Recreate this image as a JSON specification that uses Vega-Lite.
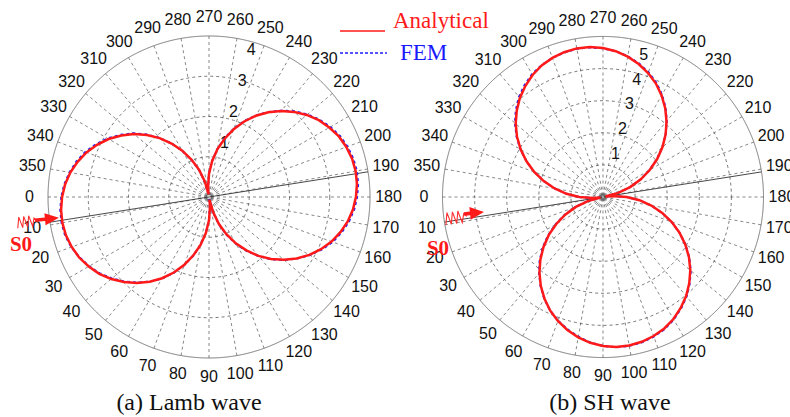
{
  "$schema": "https://vega.github.io/schema/vega-lite/v6.json",
  "background": "white",
  "padding": 0,
  "spacing": 0,
  "bounds": "flush",
  "config": {"view": {"stroke": null}},
  "resolve": {"scale": {"x": "independent", "y": "independent", "size": "independent"}},
  "datasets": {
    "angles": [
      {"deg": 0}, {"deg": 10}, {"deg": 20}, {"deg": 30}, {"deg": 40}, {"deg": 50}, {"deg": 60}, {"deg": 70}, {"deg": 80},
      {"deg": 90}, {"deg": 100}, {"deg": 110}, {"deg": 120}, {"deg": 130}, {"deg": 140}, {"deg": 150}, {"deg": 160}, {"deg": 170},
      {"deg": 180}, {"deg": 190}, {"deg": 200}, {"deg": 210}, {"deg": 220}, {"deg": 230}, {"deg": 240}, {"deg": 250}, {"deg": 260},
      {"deg": 270}, {"deg": 280}, {"deg": 290}, {"deg": 300}, {"deg": 310}, {"deg": 320}, {"deg": 330}, {"deg": 340}, {"deg": 350}
    ],
    "ringsLamb": [{"v": 1}, {"v": 2}, {"v": 3}, {"v": 4}],
    "ringsSH": [{"v": 1}, {"v": 2}, {"v": 3}, {"v": 4}, {"v": 5}],
    "lamb": [
      {"deg": 0, "Analytical": 3.65, "FEM": 3.67}, {"deg": 5, "Analytical": 3.69, "FEM": 3.71},
      {"deg": 10, "Analytical": 3.70, "FEM": 3.72}, {"deg": 15, "Analytical": 3.68, "FEM": 3.70},
      {"deg": 20, "Analytical": 3.63, "FEM": 3.64}, {"deg": 25, "Analytical": 3.56, "FEM": 3.55},
      {"deg": 30, "Analytical": 3.45, "FEM": 3.44}, {"deg": 35, "Analytical": 3.33, "FEM": 3.31},
      {"deg": 40, "Analytical": 3.17, "FEM": 3.15}, {"deg": 45, "Analytical": 2.99, "FEM": 2.97},
      {"deg": 50, "Analytical": 2.79, "FEM": 2.78}, {"deg": 55, "Analytical": 2.57, "FEM": 2.57},
      {"deg": 60, "Analytical": 2.33, "FEM": 2.34}, {"deg": 65, "Analytical": 2.07, "FEM": 2.08},
      {"deg": 70, "Analytical": 1.79, "FEM": 1.80}, {"deg": 75, "Analytical": 1.50, "FEM": 1.51},
      {"deg": 80, "Analytical": 1.21, "FEM": 1.20}, {"deg": 85, "Analytical": 0.90, "FEM": 0.89},
      {"deg": 90, "Analytical": 0.58, "FEM": 0.57}, {"deg": 95, "Analytical": 0.26, "FEM": 0.25},
      {"deg": 100, "Analytical": 0.07, "FEM": 0.06}, {"deg": 105, "Analytical": 0.39, "FEM": 0.40},
      {"deg": 110, "Analytical": 0.71, "FEM": 0.73}, {"deg": 115, "Analytical": 1.02, "FEM": 1.04},
      {"deg": 120, "Analytical": 1.33, "FEM": 1.35}, {"deg": 125, "Analytical": 1.62, "FEM": 1.64},
      {"deg": 130, "Analytical": 1.91, "FEM": 1.92}, {"deg": 135, "Analytical": 2.18, "FEM": 2.19},
      {"deg": 140, "Analytical": 2.43, "FEM": 2.44}, {"deg": 145, "Analytical": 2.66, "FEM": 2.67},
      {"deg": 150, "Analytical": 2.88, "FEM": 2.89}, {"deg": 155, "Analytical": 3.07, "FEM": 3.09},
      {"deg": 160, "Analytical": 3.24, "FEM": 3.27}, {"deg": 165, "Analytical": 3.38, "FEM": 3.41},
      {"deg": 170, "Analytical": 3.50, "FEM": 3.53}, {"deg": 175, "Analytical": 3.59, "FEM": 3.62},
      {"deg": 180, "Analytical": 3.65, "FEM": 3.68}, {"deg": 185, "Analytical": 3.69, "FEM": 3.72},
      {"deg": 190, "Analytical": 3.70, "FEM": 3.73}, {"deg": 195, "Analytical": 3.68, "FEM": 3.71},
      {"deg": 200, "Analytical": 3.63, "FEM": 3.66}, {"deg": 205, "Analytical": 3.56, "FEM": 3.59},
      {"deg": 210, "Analytical": 3.45, "FEM": 3.48}, {"deg": 215, "Analytical": 3.33, "FEM": 3.35},
      {"deg": 220, "Analytical": 3.17, "FEM": 3.19}, {"deg": 225, "Analytical": 2.99, "FEM": 3.01},
      {"deg": 230, "Analytical": 2.79, "FEM": 2.80}, {"deg": 235, "Analytical": 2.57, "FEM": 2.58},
      {"deg": 240, "Analytical": 2.33, "FEM": 2.34}, {"deg": 245, "Analytical": 2.07, "FEM": 2.09},
      {"deg": 250, "Analytical": 1.79, "FEM": 1.81}, {"deg": 255, "Analytical": 1.50, "FEM": 1.52},
      {"deg": 260, "Analytical": 1.21, "FEM": 1.22}, {"deg": 265, "Analytical": 0.90, "FEM": 0.91},
      {"deg": 270, "Analytical": 0.58, "FEM": 0.59}, {"deg": 275, "Analytical": 0.26, "FEM": 0.27},
      {"deg": 280, "Analytical": 0.07, "FEM": 0.08}, {"deg": 285, "Analytical": 0.39, "FEM": 0.38},
      {"deg": 290, "Analytical": 0.71, "FEM": 0.70}, {"deg": 295, "Analytical": 1.02, "FEM": 1.01},
      {"deg": 300, "Analytical": 1.33, "FEM": 1.32}, {"deg": 305, "Analytical": 1.62, "FEM": 1.62},
      {"deg": 310, "Analytical": 1.91, "FEM": 1.92}, {"deg": 315, "Analytical": 2.18, "FEM": 2.20},
      {"deg": 320, "Analytical": 2.43, "FEM": 2.46}, {"deg": 325, "Analytical": 2.66, "FEM": 2.69},
      {"deg": 330, "Analytical": 2.88, "FEM": 2.91}, {"deg": 335, "Analytical": 3.07, "FEM": 3.10},
      {"deg": 340, "Analytical": 3.24, "FEM": 3.27}, {"deg": 345, "Analytical": 3.38, "FEM": 3.41},
      {"deg": 350, "Analytical": 3.50, "FEM": 3.52}, {"deg": 355, "Analytical": 3.59, "FEM": 3.61},
      {"deg": 360, "Analytical": 3.65, "FEM": 3.67}
    ],
    "sh": [
      {"deg": 0, "Analytical": 0.74, "FEM": 0.75}, {"deg": 5, "Analytical": 0.33, "FEM": 0.34},
      {"deg": 10, "Analytical": 0.08, "FEM": 0.09}, {"deg": 15, "Analytical": 0.49, "FEM": 0.50},
      {"deg": 20, "Analytical": 0.90, "FEM": 0.92}, {"deg": 25, "Analytical": 1.30, "FEM": 1.32},
      {"deg": 30, "Analytical": 1.68, "FEM": 1.71}, {"deg": 35, "Analytical": 2.06, "FEM": 2.09},
      {"deg": 40, "Analytical": 2.42, "FEM": 2.45}, {"deg": 45, "Analytical": 2.76, "FEM": 2.79},
      {"deg": 50, "Analytical": 3.08, "FEM": 3.10}, {"deg": 55, "Analytical": 3.38, "FEM": 3.39},
      {"deg": 60, "Analytical": 3.65, "FEM": 3.66}, {"deg": 65, "Analytical": 3.90, "FEM": 3.90},
      {"deg": 70, "Analytical": 4.11, "FEM": 4.10}, {"deg": 75, "Analytical": 4.29, "FEM": 4.27},
      {"deg": 80, "Analytical": 4.44, "FEM": 4.42}, {"deg": 85, "Analytical": 4.56, "FEM": 4.55},
      {"deg": 90, "Analytical": 4.64, "FEM": 4.64}, {"deg": 95, "Analytical": 4.69, "FEM": 4.70},
      {"deg": 100, "Analytical": 4.70, "FEM": 4.71}, {"deg": 105, "Analytical": 4.67, "FEM": 4.69},
      {"deg": 110, "Analytical": 4.61, "FEM": 4.63}, {"deg": 115, "Analytical": 4.52, "FEM": 4.54},
      {"deg": 120, "Analytical": 4.39, "FEM": 4.41}, {"deg": 125, "Analytical": 4.22, "FEM": 4.24},
      {"deg": 130, "Analytical": 4.03, "FEM": 4.05}, {"deg": 135, "Analytical": 3.80, "FEM": 3.82},
      {"deg": 140, "Analytical": 3.55, "FEM": 3.57}, {"deg": 145, "Analytical": 3.27, "FEM": 3.28},
      {"deg": 150, "Analytical": 2.96, "FEM": 2.97}, {"deg": 155, "Analytical": 2.63, "FEM": 2.63},
      {"deg": 160, "Analytical": 2.28, "FEM": 2.27}, {"deg": 165, "Analytical": 1.91, "FEM": 1.90},
      {"deg": 170, "Analytical": 1.53, "FEM": 1.52}, {"deg": 175, "Analytical": 1.14, "FEM": 1.13},
      {"deg": 180, "Analytical": 0.74, "FEM": 0.73}, {"deg": 185, "Analytical": 0.33, "FEM": 0.32},
      {"deg": 190, "Analytical": 0.08, "FEM": 0.07}, {"deg": 195, "Analytical": 0.49, "FEM": 0.48},
      {"deg": 200, "Analytical": 0.90, "FEM": 0.89}, {"deg": 205, "Analytical": 1.30, "FEM": 1.29},
      {"deg": 210, "Analytical": 1.68, "FEM": 1.67}, {"deg": 215, "Analytical": 2.06, "FEM": 2.05},
      {"deg": 220, "Analytical": 2.42, "FEM": 2.41}, {"deg": 225, "Analytical": 2.76, "FEM": 2.76},
      {"deg": 230, "Analytical": 3.08, "FEM": 3.09}, {"deg": 235, "Analytical": 3.38, "FEM": 3.40},
      {"deg": 240, "Analytical": 3.65, "FEM": 3.68}, {"deg": 245, "Analytical": 3.90, "FEM": 3.93},
      {"deg": 250, "Analytical": 4.11, "FEM": 4.14}, {"deg": 255, "Analytical": 4.29, "FEM": 4.31},
      {"deg": 260, "Analytical": 4.44, "FEM": 4.45}, {"deg": 265, "Analytical": 4.56, "FEM": 4.56},
      {"deg": 270, "Analytical": 4.64, "FEM": 4.63}, {"deg": 275, "Analytical": 4.69, "FEM": 4.68},
      {"deg": 280, "Analytical": 4.70, "FEM": 4.69}, {"deg": 285, "Analytical": 4.67, "FEM": 4.66},
      {"deg": 290, "Analytical": 4.61, "FEM": 4.61}, {"deg": 295, "Analytical": 4.52, "FEM": 4.53},
      {"deg": 300, "Analytical": 4.39, "FEM": 4.42}, {"deg": 305, "Analytical": 4.22, "FEM": 4.26},
      {"deg": 310, "Analytical": 4.03, "FEM": 4.07}, {"deg": 315, "Analytical": 3.80, "FEM": 3.84},
      {"deg": 320, "Analytical": 3.55, "FEM": 3.58}, {"deg": 325, "Analytical": 3.27, "FEM": 3.29},
      {"deg": 330, "Analytical": 2.96, "FEM": 2.97}, {"deg": 335, "Analytical": 2.63, "FEM": 2.63},
      {"deg": 340, "Analytical": 2.28, "FEM": 2.28}, {"deg": 345, "Analytical": 1.91, "FEM": 1.91},
      {"deg": 350, "Analytical": 1.53, "FEM": 1.53}, {"deg": 355, "Analytical": 1.14, "FEM": 1.14},
      {"deg": 360, "Analytical": 0.74, "FEM": 0.75}
    ]
  },
  "hconcat": [
    {
      "width": 395,
      "height": 417,
      "layer": [
        {
          "data": {"name": "ringsLamb"},
          "transform": [{"calculate": "0", "as": "x"}, {"calculate": "0", "as": "y"}],
          "mark": {"type": "point", "shape": "circle", "filled": false, "opacity": 1, "color": "#555555", "strokeWidth": 0.8},
          "encoding": {
            "x": {"field": "x", "type": "quantitative", "scale": {"domain": [-5.193, 4.621], "nice": false, "zero": false}, "axis": null},
            "y": {"field": "y", "type": "quantitative", "scale": {"domain": [-5.466, 4.894], "nice": false, "zero": false}, "axis": null},
            "size": {"field": "v", "type": "quantitative", "scale": {"type": "pow", "exponent": 2, "domain": [0, 4], "range": [0, 103684]}, "legend": null},
            "strokeDash": {"condition": {"test": "datum.v == 4", "value": [1, 0]}, "value": [3, 3]}
          }
        },
        {
          "data": {"name": "angles"},
          "transform": [
            {"calculate": "-4*cos(datum.deg*PI/180)", "as": "x"},
            {"calculate": "-4*sin(datum.deg*PI/180)", "as": "y"}
          ],
          "mark": {"type": "rule", "color": "#555555", "strokeWidth": 0.7, "strokeDash": [3, 3]},
          "encoding": {
            "x": {"field": "x", "type": "quantitative", "scale": {"domain": [-5.193, 4.621], "nice": false, "zero": false}, "axis": null},
            "y": {"field": "y", "type": "quantitative", "scale": {"domain": [-5.466, 4.894], "nice": false, "zero": false}, "axis": null},
            "x2": {"datum": 0}, "y2": {"datum": 0}
          }
        },
        {
          "data": {"values": [{"deg": 9}]},
          "transform": [
            {"calculate": "-4*cos(datum.deg*PI/180)", "as": "x"},
            {"calculate": "-4*sin(datum.deg*PI/180)", "as": "y"},
            {"calculate": "-datum.x", "as": "xe"},
            {"calculate": "-datum.y", "as": "ye"}
          ],
          "mark": {"type": "rule", "color": "#333333", "strokeWidth": 0.9},
          "encoding": {
            "x": {"field": "x", "type": "quantitative", "axis": null},
            "y": {"field": "y", "type": "quantitative", "axis": null},
            "x2": {"field": "xe"}, "y2": {"field": "ye"}
          }
        },
        {
          "data": {"name": "angles"},
          "transform": [
            {"calculate": "-4.46*cos(datum.deg*PI/180)", "as": "x"},
            {"calculate": "-4.46*sin(datum.deg*PI/180)", "as": "y"}
          ],
          "mark": {"type": "text", "font": "Liberation Sans", "fontSize": 16, "color": "#111111", "align": "center", "baseline": "middle"},
          "encoding": {
            "x": {"field": "x", "type": "quantitative", "axis": null},
            "y": {"field": "y", "type": "quantitative", "axis": null},
            "text": {"field": "deg", "type": "nominal"}
          }
        },
        {
          "data": {"name": "ringsLamb"},
          "transform": [
            {"calculate": "0.2756*(0.8*datum.v+0.6)", "as": "x"},
            {"calculate": "0.9613*(0.8*datum.v+0.6)", "as": "y"}
          ],
          "mark": {"type": "text", "font": "Liberation Sans", "fontSize": 16, "color": "#111111", "align": "center", "baseline": "middle"},
          "encoding": {
            "x": {"field": "x", "type": "quantitative", "axis": null},
            "y": {"field": "y", "type": "quantitative", "axis": null},
            "text": {"field": "v", "type": "nominal"}
          }
        },
        {
          "data": {"name": "lamb"},
          "transform": [
            {"calculate": "-datum.FEM*cos(datum.deg*PI/180)", "as": "x"},
            {"calculate": "-datum.FEM*sin(datum.deg*PI/180)", "as": "y"}
          ],
          "mark": {"type": "line", "color": "#1a1aff", "strokeWidth": 2, "strokeDash": [3, 3]},
          "encoding": {
            "x": {"field": "x", "type": "quantitative", "axis": null},
            "y": {"field": "y", "type": "quantitative", "axis": null},
            "order": {"field": "deg", "type": "quantitative"}
          }
        },
        {
          "data": {"name": "lamb"},
          "transform": [
            {"calculate": "-datum.Analytical*cos(datum.deg*PI/180)", "as": "x"},
            {"calculate": "-datum.Analytical*sin(datum.deg*PI/180)", "as": "y"}
          ],
          "mark": {"type": "line", "color": "#ff1a1a", "strokeWidth": 2.5},
          "encoding": {
            "x": {"field": "x", "type": "quantitative", "axis": null},
            "y": {"field": "y", "type": "quantitative", "axis": null},
            "order": {"field": "deg", "type": "quantitative"}
          }
        },
        {
          "data": {"values": [{"item": "signal"}]},
          "mark": {"type": "point", "shape": "M-1,0.5L-0.75,-0.6L-0.5,0.5L-0.25,-0.6L0,0.5L0.25,-0.6L0.5,0.5L0.75,-0.3L1,0", "filled": false, "color": "#ff3030", "strokeWidth": 1.1, "opacity": 1, "size": 400, "angle": -8},
          "encoding": {"x": {"datum": -4.522, "type": "quantitative"}, "y": {"datum": -0.621, "type": "quantitative"}}
        },
        {
          "data": {"values": [{"item": "arrow"}]},
          "mark": {"type": "point", "shape": "M-1,-0.15L-0.17,-0.15L-0.17,-0.5L1,0L-0.17,0.5L-0.17,0.15L-1,0.15Z", "filled": true, "color": "#ff1a1a", "opacity": 1, "size": 576, "angle": -6},
          "encoding": {"x": {"datum": -4.025, "type": "quantitative"}, "y": {"datum": -0.547, "type": "quantitative"}}
        },
        {
          "data": {"values": [{"label": "S0"}]},
          "mark": {"type": "text", "font": "Liberation Serif", "fontSize": 21, "fontWeight": "bold", "color": "#ff1a1a", "align": "center", "baseline": "middle"},
          "encoding": {"text": {"field": "label"}, "x": {"datum": -4.671, "type": "quantitative"}, "y": {"datum": -1.193, "type": "quantitative"}}
        },
        {
          "data": {"values": [{"series": "Analytical"}]},
          "mark": {"type": "rule", "color": "#ff1a1a", "strokeWidth": 1.5},
          "encoding": {"x": {"datum": 3.255, "type": "quantitative"}, "x2": {"datum": 4.373}, "y": {"datum": 4.124, "type": "quantitative"}}
        },
        {
          "data": {"values": [{"series": "FEM"}]},
          "mark": {"type": "rule", "color": "#1a1aff", "strokeWidth": 1.5, "strokeDash": [3, 2]},
          "encoding": {"x": {"datum": 3.255, "type": "quantitative"}, "x2": {"datum": 4.42}, "y": {"datum": 3.578, "type": "quantitative"}}
        },
        {
          "data": {"values": [{"series": "Analytical"}]},
          "mark": {"type": "text", "font": "Liberation Serif", "fontSize": 23, "color": "#ff1a1a", "align": "left", "baseline": "alphabetic"},
          "encoding": {"text": {"field": "series"}, "x": {"datum": 4.571, "type": "quantitative"}, "y": {"datum": 4.199, "type": "quantitative"}}
        },
        {
          "data": {"values": [{"series": "FEM"}]},
          "mark": {"type": "text", "font": "Liberation Serif", "fontSize": 23, "color": "#1a1aff", "align": "left", "baseline": "alphabetic"},
          "encoding": {"text": {"field": "series"}, "x": {"datum": 4.745, "type": "quantitative"}, "y": {"datum": 3.404, "type": "quantitative"}}
        },
        {
          "data": {"values": [{"caption": "(a) Lamb wave"}]},
          "mark": {"type": "text", "font": "Liberation Serif", "fontSize": 24, "color": "#111111", "align": "center", "baseline": "alphabetic"},
          "encoding": {"text": {"field": "caption"}, "x": {"datum": -0.497, "type": "quantitative"}, "y": {"datum": -5.292, "type": "quantitative"}}
        }
      ]
    },
    {
      "width": 395,
      "height": 417,
      "layer": [
        {
          "data": {"name": "ringsSH"},
          "transform": [{"calculate": "0", "as": "x"}, {"calculate": "0", "as": "y"}],
          "mark": {"type": "point", "shape": "circle", "filled": false, "opacity": 1, "color": "#555555", "strokeWidth": 0.8},
          "encoding": {
            "x": {"field": "x", "type": "quantitative", "scale": {"domain": [-6.48, 5.826], "nice": false, "zero": false}, "axis": null},
            "y": {"field": "y", "type": "quantitative", "scale": {"domain": [-6.854, 6.137], "nice": false, "zero": false}, "axis": null},
            "size": {"field": "v", "type": "quantitative", "scale": {"type": "pow", "exponent": 2, "domain": [0, 5], "range": [0, 103041]}, "legend": null},
            "strokeDash": {"condition": {"test": "datum.v == 5", "value": [1, 0]}, "value": [3, 3]}
          }
        },
        {
          "data": {"name": "angles"},
          "transform": [
            {"calculate": "-5*cos(datum.deg*PI/180)", "as": "x"},
            {"calculate": "-5*sin(datum.deg*PI/180)", "as": "y"}
          ],
          "mark": {"type": "rule", "color": "#555555", "strokeWidth": 0.7, "strokeDash": [3, 3]},
          "encoding": {
            "x": {"field": "x", "type": "quantitative", "scale": {"domain": [-6.48, 5.826], "nice": false, "zero": false}, "axis": null},
            "y": {"field": "y", "type": "quantitative", "scale": {"domain": [-6.854, 6.137], "nice": false, "zero": false}, "axis": null},
            "x2": {"datum": 0}, "y2": {"datum": 0}
          }
        },
        {
          "data": {"values": [{"deg": 9}]},
          "transform": [
            {"calculate": "-5*cos(datum.deg*PI/180)", "as": "x"},
            {"calculate": "-5*sin(datum.deg*PI/180)", "as": "y"},
            {"calculate": "-datum.x", "as": "xe"},
            {"calculate": "-datum.y", "as": "ye"}
          ],
          "mark": {"type": "rule", "color": "#333333", "strokeWidth": 0.9},
          "encoding": {
            "x": {"field": "x", "type": "quantitative", "axis": null},
            "y": {"field": "y", "type": "quantitative", "axis": null},
            "x2": {"field": "xe"}, "y2": {"field": "ye"}
          }
        },
        {
          "data": {"name": "angles"},
          "transform": [
            {"calculate": "-5.575*cos(datum.deg*PI/180)", "as": "x"},
            {"calculate": "-5.575*sin(datum.deg*PI/180)", "as": "y"}
          ],
          "mark": {"type": "text", "font": "Liberation Sans", "fontSize": 16, "color": "#111111", "align": "center", "baseline": "middle"},
          "encoding": {
            "x": {"field": "x", "type": "quantitative", "axis": null},
            "y": {"field": "y", "type": "quantitative", "axis": null},
            "text": {"field": "deg", "type": "nominal"}
          }
        },
        {
          "data": {"name": "ringsSH"},
          "transform": [
            {"calculate": "0.2756*(0.8*datum.v+0.6)", "as": "x"},
            {"calculate": "0.9613*(0.8*datum.v+0.6)", "as": "y"}
          ],
          "mark": {"type": "text", "font": "Liberation Sans", "fontSize": 16, "color": "#111111", "align": "center", "baseline": "middle"},
          "encoding": {
            "x": {"field": "x", "type": "quantitative", "axis": null},
            "y": {"field": "y", "type": "quantitative", "axis": null},
            "text": {"field": "v", "type": "nominal"}
          }
        },
        {
          "data": {"name": "sh"},
          "transform": [
            {"calculate": "-datum.FEM*cos(datum.deg*PI/180)", "as": "x"},
            {"calculate": "-datum.FEM*sin(datum.deg*PI/180)", "as": "y"}
          ],
          "mark": {"type": "line", "color": "#1a1aff", "strokeWidth": 2, "strokeDash": [3, 3]},
          "encoding": {
            "x": {"field": "x", "type": "quantitative", "axis": null},
            "y": {"field": "y", "type": "quantitative", "axis": null},
            "order": {"field": "deg", "type": "quantitative"}
          }
        },
        {
          "data": {"name": "sh"},
          "transform": [
            {"calculate": "-datum.Analytical*cos(datum.deg*PI/180)", "as": "x"},
            {"calculate": "-datum.Analytical*sin(datum.deg*PI/180)", "as": "y"}
          ],
          "mark": {"type": "line", "color": "#ff1a1a", "strokeWidth": 2.5},
          "encoding": {
            "x": {"field": "x", "type": "quantitative", "axis": null},
            "y": {"field": "y", "type": "quantitative", "axis": null},
            "order": {"field": "deg", "type": "quantitative"}
          }
        },
        {
          "data": {"values": [{"item": "signal"}]},
          "mark": {"type": "point", "shape": "M-1,0.5L-0.75,-0.6L-0.5,0.5L-0.25,-0.6L0,0.5L0.25,-0.6L0.5,0.5L0.75,-0.3L1,0", "filled": false, "color": "#ff3030", "strokeWidth": 1.1, "opacity": 1, "size": 484, "angle": -8},
          "encoding": {"x": {"datum": -4.579, "type": "quantitative"}, "y": {"datum": -0.654, "type": "quantitative"}}
        },
        {
          "data": {"values": [{"item": "arrow"}]},
          "mark": {"type": "point", "shape": "M-1,-0.18L-0.4,-0.18L-0.4,-0.65L1,0L-0.4,0.65L-0.4,0.18L-1,0.18Z", "filled": true, "color": "#ff1a1a", "opacity": 1, "size": 400, "angle": -6},
          "encoding": {"x": {"datum": -4.019, "type": "quantitative"}, "y": {"datum": -0.498, "type": "quantitative"}}
        },
        {
          "data": {"values": [{"label": "S0"}]},
          "mark": {"type": "text", "font": "Liberation Serif", "fontSize": 21, "fontWeight": "bold", "color": "#ff1a1a", "align": "center", "baseline": "middle"},
          "encoding": {"text": {"field": "label"}, "x": {"datum": -5.14, "type": "quantitative"}, "y": {"datum": -1.62, "type": "quantitative"}}
        },
        {
          "data": {"values": [{"caption": "(b) SH wave"}]},
          "mark": {"type": "text", "font": "Liberation Serif", "fontSize": 24, "color": "#111111", "align": "center", "baseline": "alphabetic"},
          "encoding": {"text": {"field": "caption"}, "x": {"datum": 0.218, "type": "quantitative"}, "y": {"datum": -6.636, "type": "quantitative"}}
        }
      ]
    }
  ]
}
